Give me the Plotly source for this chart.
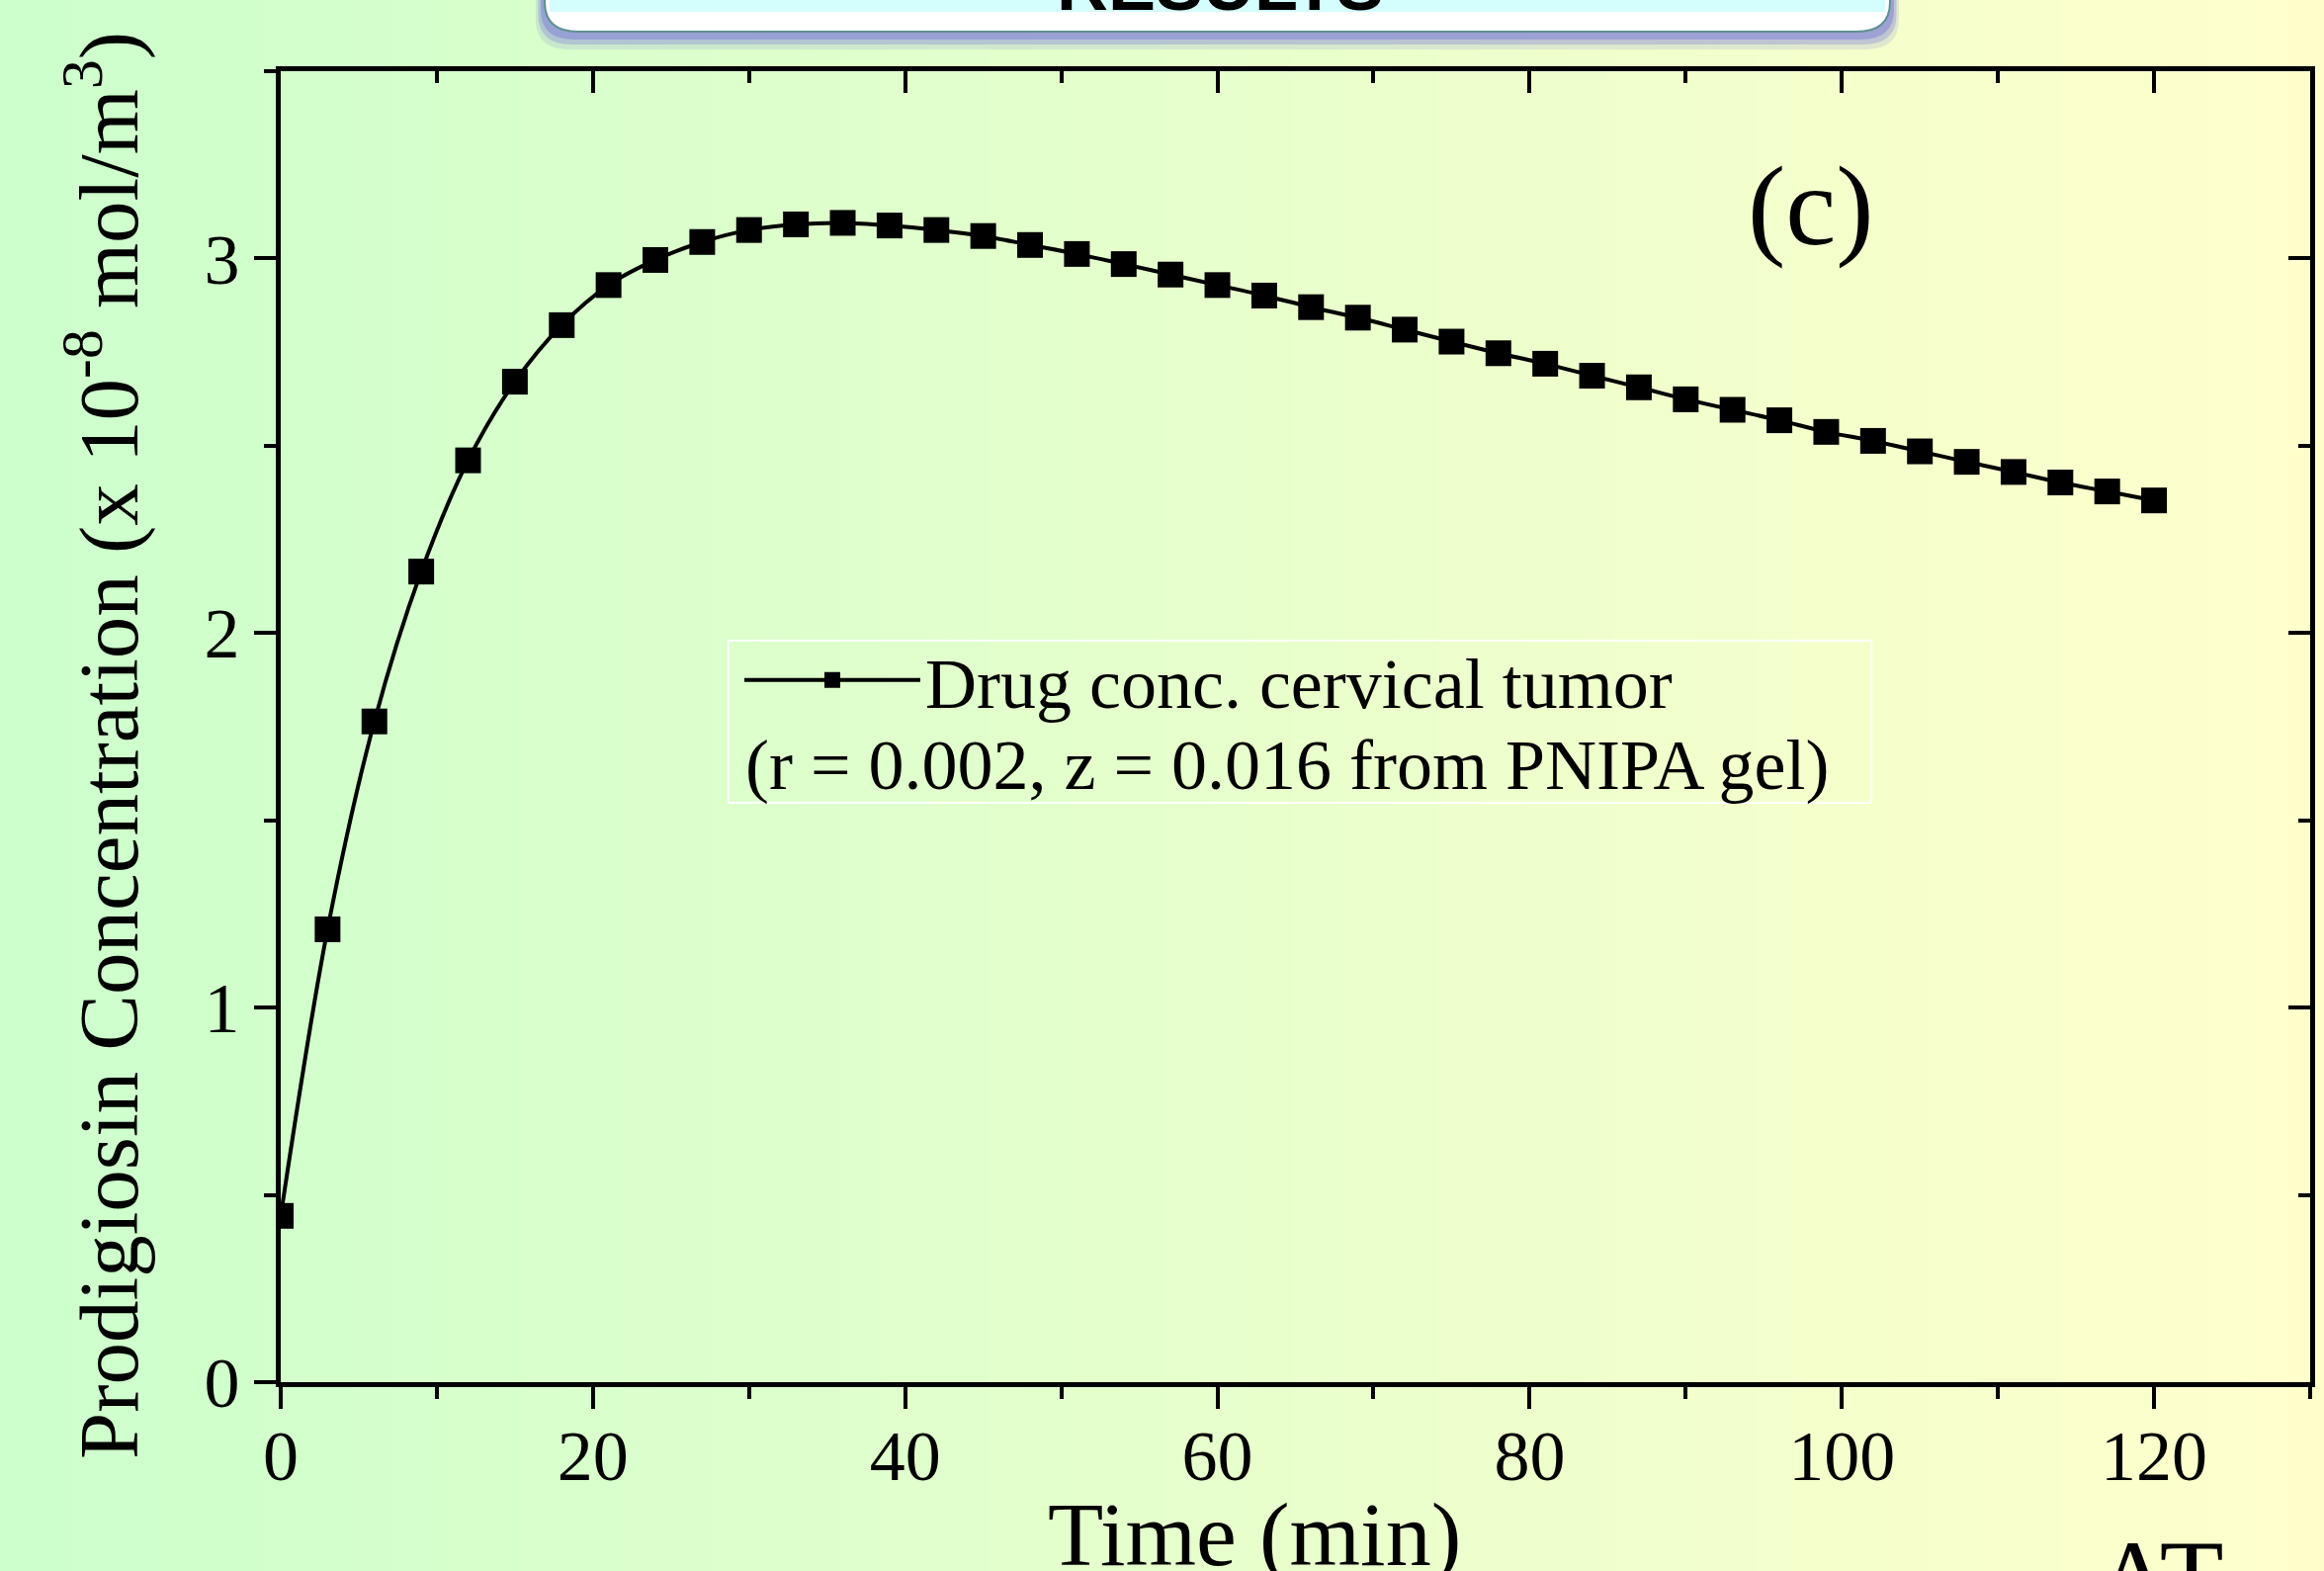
import plotly.graph_objects as go

# ---------------- data ----------------
time_min = [0, 3, 6, 9, 12, 15, 18, 21, 24, 27, 30, 33, 36, 39, 42, 45, 48, 51, 54, 57,
            60, 63, 66, 69, 72, 75, 78, 81, 84, 87, 90, 93, 96, 99, 102, 105, 108, 111,
            114, 117, 120]
conc = [0.444, 1.209, 1.764, 2.164, 2.461, 2.671, 2.822, 2.929, 2.996, 3.044, 3.076,
        3.091, 3.095, 3.088, 3.076, 3.060, 3.036, 3.012, 2.985, 2.957, 2.929, 2.901,
        2.870, 2.842, 2.810, 2.778, 2.747, 2.719, 2.687, 2.656, 2.624, 2.596, 2.568,
        2.537, 2.513, 2.485, 2.457, 2.430, 2.402, 2.378, 2.354]
x_ticks = [0, 20, 40, 60, 80, 100, 120]
y_ticks = [0, 1, 2, 3]
series_name = "Drug conc. cervical tumor"
series_note = "(r = 0.002, z = 0.016 from PNIPA gel)"
panel_label = "(c)"

W, H = 2351, 1589
ML, MR, MT, MB = 284, 14, 72, 191
PW, PH = W - ML - MR, H - MT - MB


def px_x(p):
    return (p - ML) / PW


def px_y(p):
    return (H - MB - p) / PH


SERIF = "Liberation Serif, Times New Roman, serif"

fig = go.Figure()
fig.add_trace(go.Scatter(
    x=time_min, y=conc, mode="lines+markers", name=series_name,
    line=dict(color="black", width=4, shape="spline"),
    marker=dict(symbol="square", size=26, color="black"),
))
# invisible trace to activate the mirrored (top/right) axes
fig.add_trace(go.Scatter(
    x=time_min, y=conc, xaxis="x2", yaxis="y2", mode="markers",
    marker=dict(opacity=0), showlegend=False, hoverinfo="skip",
))

axis_common = dict(showline=True, linecolor="black", linewidth=5, showgrid=False,
                   zeroline=False, tickcolor="black", tickwidth=4, ticklen=22)

fig.update_layout(
    width=W, height=H,
    margin=dict(l=ML, r=MR, t=MT, b=MB, pad=0),
    paper_bgcolor="rgba(0,0,0,0)", plot_bgcolor="rgba(0,0,0,0)",
    font=dict(family=SERIF, color="black"),
    xaxis=dict(range=[0, 130], tickvals=x_ticks, ticks="outside",
               tickfont=dict(size=72, family=SERIF), ticklabelstandoff=-14,
               minor=dict(dtick=10, ticks="outside", ticklen=12, tickwidth=4, tickcolor="black"),
               **axis_common),
    yaxis=dict(range=[0, 3.5], tickvals=y_ticks, ticks="outside",
               tickfont=dict(size=72, family=SERIF),
               minor=dict(dtick=0.5, ticks="outside", ticklen=12, tickwidth=4, tickcolor="black"),
               **axis_common),
    xaxis2=dict(range=[0, 130], overlaying="x", side="top", anchor="y2", tickvals=x_ticks,
                ticks="inside", showticklabels=False,
                minor=dict(dtick=10, ticks="inside", ticklen=12, tickwidth=4, tickcolor="black"),
                **axis_common),
    yaxis2=dict(range=[0, 3.5], overlaying="y", side="right", anchor="x2", tickvals=y_ticks,
                ticks="inside", showticklabels=False,
                minor=dict(dtick=0.5, ticks="inside", ticklen=12, tickwidth=4, tickcolor="black"),
                **axis_common),
    showlegend=True,
    legend=dict(x=px_x(748), y=px_y(688), xanchor="left", yanchor="middle",
                bgcolor="rgba(0,0,0,0)", borderwidth=0,
                font=dict(size=72, family=SERIF), itemsizing="trace", itemwidth=178),
)

shapes = []
# background gradient (light green -> light yellow)
N = 160
x_left, x_right = px_x(0), px_x(W)
for i in range(N):
    t = i / (N - 1)
    r = int(round(204 + (255 - 204) * t))
    shapes.append(dict(type="rect", xref="paper", yref="paper", layer="below",
                       x0=x_left + (x_right - x_left) * i / N,
                       x1=x_left + (x_right - x_left) * (i + 1) / N + 0.001,
                       y0=px_y(H), y1=px_y(0), line=dict(width=0),
                       fillcolor=f"rgb({r},255,204)"))


def rounded(x0p, x1p, ytop, ybot, rx, ry):
    X0, X1 = px_x(x0p), px_x(x1p)
    YT, YB = px_y(ytop), px_y(ybot)
    RX, RY = rx / PW, ry / PH
    return (f"M {X0},{YT} L {X0},{YB + RY} Q {X0},{YB} {X0 + RX},{YB} "
            f"L {X1 - RX},{YB} Q {X1},{YB} {X1},{YB + RY} L {X1},{YT} Z")


# banner shadow
for off, alpha in [(18, 0.18), (13, 0.32), (8, 0.5)]:
    shapes.append(dict(type="path", xref="paper", yref="paper", layer="above",
                       path=rounded(551 - off / 2, 1912 + off / 2, -60, 32 + off, 34, 30),
                       fillcolor=f"rgba(125,125,215,{alpha})", line=dict(width=0)))
# banner body
shapes.append(dict(type="path", xref="paper", yref="paper", layer="above",
                   path=rounded(551, 1912, -60, 32, 34, 30),
                   fillcolor="#ffffff", line=dict(color="#5f8f8f", width=2)))
shapes.append(dict(type="rect", xref="paper", yref="paper", layer="above",
                   x0=px_x(556), x1=px_x(1907), y0=px_y(12), y1=px_y(-60),
                   fillcolor="#d4fdfd", line=dict(width=0)))
# legend frame
shapes.append(dict(type="rect", xref="paper", yref="paper", layer="above",
                   x0=px_x(737), x1=px_x(1893), y0=px_y(812), y1=px_y(648),
                   line=dict(color="white", width=2), fillcolor="rgba(0,0,0,0)"))
fig.update_layout(shapes=shapes)

annotations = [
    dict(text=series_note, xref="paper", yref="paper", x=px_x(752), y=px_y(774),
         xanchor="left", yanchor="middle", showarrow=False, font=dict(size=72, family=SERIF)),
    dict(text=panel_label, x=98, y=3.14, xref="x", yref="y", showarrow=False,
         font=dict(size=115, family=SERIF)),
    dict(text="Time (min)", xref="paper", yref="paper", x=px_x(1269), y=px_y(1552),
         xanchor="center", yanchor="middle", showarrow=False, font=dict(size=92, family=SERIF)),
    dict(text="Prodigiosin Concentration (x 10<sup>-8</sup> mol/m<sup>3</sup>)",
         xref="paper", yref="paper", x=px_x(104), y=px_y(754), textangle=-90,
         xanchor="center", yanchor="middle", showarrow=False, font=dict(size=85, family=SERIF)),
    dict(text="<b>RESULTS</b>", xref="paper", yref="paper", x=px_x(1234), y=px_y(-15),
         xanchor="center", yanchor="middle", showarrow=False,
         font=dict(size=72, family="Liberation Sans Narrow, Liberation Sans, Arial", color="black")),
    dict(text="AT", xref="paper", yref="paper", x=px_x(2185), y=px_y(1596),
         xanchor="center", yanchor="middle", showarrow=False, font=dict(size=106, family=SERIF)),
]
fig.update_layout(annotations=annotations)

fig.write_html("out.html", config={"displayModeBar": False},
               post_script="document.body.style.margin='0';document.body.style.overflow='hidden';")
